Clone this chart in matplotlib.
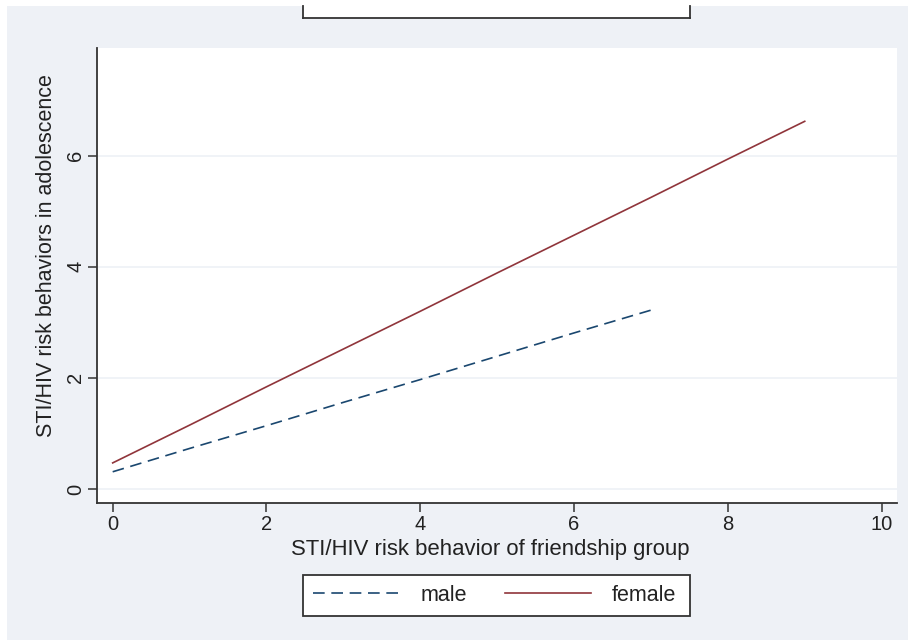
import matplotlib
matplotlib.use("Agg")
import matplotlib.pyplot as plt
from matplotlib.patches import Rectangle
from matplotlib.lines import Line2D

plt.rcParams['font.family'] = ['Liberation Sans', 'DejaVu Sans']

# ---- data ----
male_x = [0, 1, 2, 3, 4, 5, 6, 7]
male_y = [0.31, 0.73, 1.14, 1.56, 1.97, 2.39, 2.81, 3.22]
female_x = [0, 1, 2, 3, 4, 5, 6, 7, 8, 9]
female_y = [0.47, 1.15, 1.84, 2.52, 3.20, 3.89, 4.57, 5.25, 5.94, 6.62]
x_ticks = [0, 2, 4, 6, 8, 10]
y_ticks = [0, 2, 4, 6]
series_labels = ["male", "female"]
x_title = "STI/HIV risk behavior of friendship group"
y_title = "STI/HIV risk behaviors in adolescence"

W, H = 908, 641
BG = '#EEF1F6'
AX = '#333333'
NAVY = '#1A476F'
MAROON = '#90353B'

fig = plt.figure(figsize=(W / 100, H / 100), dpi=100, facecolor=BG)

def fx(px):
    return px / W

def fy(py):
    return 1 - py / H

# white margins (top / left / bottom strips)
fig.patches.append(Rectangle((0, 0), fx(7), 1, transform=fig.transFigure,
                             facecolor='white', edgecolor='none', zorder=0))
fig.patches.append(Rectangle((0, fy(6)), 1, 6 / H, transform=fig.transFigure,
                             facecolor='white', edgecolor='none', zorder=0))
fig.patches.append(Rectangle((0, 0), 1, 1 / H, transform=fig.transFigure,
                             facecolor='white', edgecolor='none', zorder=0))

# clipped box at top
fig.patches.append(Rectangle((fx(303), fy(18)), fx(690) - fx(303), 12 / H,
                             transform=fig.transFigure, facecolor='white',
                             edgecolor='none', zorder=1))
for xs, ys in [([303, 303], [6, 18]), ([303, 690], [18, 18]), ([690, 690], [6, 18])]:
    fig.add_artist(Line2D([fx(v) for v in xs], [fy(v) for v in ys],
                          transform=fig.transFigure, color=AX, lw=1.3,
                          solid_capstyle='projecting', zorder=2))

# legend box at bottom
fig.patches.append(Rectangle((fx(303), fy(616)), fx(690) - fx(303), 41 / H,
                             transform=fig.transFigure, facecolor='white',
                             edgecolor=AX, lw=1.3, zorder=1))

left, right, top, bottom = 97, 897, 48, 503
ax = fig.add_axes([fx(left), fy(bottom), fx(right) - fx(left), fy(top) - fy(bottom)])
ax.set_facecolor('white')

ax.plot(male_x, male_y, color=NAVY, lw=1.2, dashes=(7, 4), label=series_labels[0])
ax.plot(female_x, female_y, color=MAROON, lw=1.2, label=series_labels[1])

ax.set_xlim(-0.204, 10.2)
ax.set_ylim(-0.252, 7.94)
ax.set_xticks(x_ticks)
ax.set_yticks(y_ticks)
ax.set_xticklabels([str(t) for t in x_ticks], fontsize=14.5, color='#222222')
ax.set_yticklabels([str(t) for t in y_ticks], fontsize=14.5, color='#222222',
                   rotation=90, va='center')
ax.tick_params(axis='both', direction='out', length=6.5, width=1.1, color=AX)
ax.tick_params(axis='x', pad=2.5)
ax.tick_params(axis='y', pad=2)
ax.grid(axis='y', color='#EEF1F6', lw=1.2)
ax.set_axisbelow(True)

for s in ['top', 'right']:
    ax.spines[s].set_visible(False)
for s in ['left', 'bottom']:
    ax.spines[s].set_color(AX)
    ax.spines[s].set_linewidth(1.3)

ax.set_xlabel(x_title, fontsize=15.9, color='#222222')
ax.xaxis.set_label_coords((490 - left) / (right - left), (bottom - 549) / (bottom - top))
ax.xaxis.label.set_va('center')
ax.set_ylabel(y_title, fontsize=15.5, color='#222222')
ax.yaxis.set_label_coords((47 - left) / (right - left), (bottom - 255.5) / (bottom - top))
ax.yaxis.label.set_va('center')

leg = fig.legend(loc='center left', bbox_to_anchor=(fx(294.5), fy(595.5)),
                 bbox_transform=fig.transFigure, ncol=2, fontsize=15.5,
                 frameon=False, borderpad=0.35, handlelength=4.0,
                 handletextpad=1.0, columnspacing=1.75)
leg.set_zorder(3)
for t in leg.get_texts():
    t.set_color('#222222')

fig.savefig('out.png', dpi=100, facecolor=BG)
